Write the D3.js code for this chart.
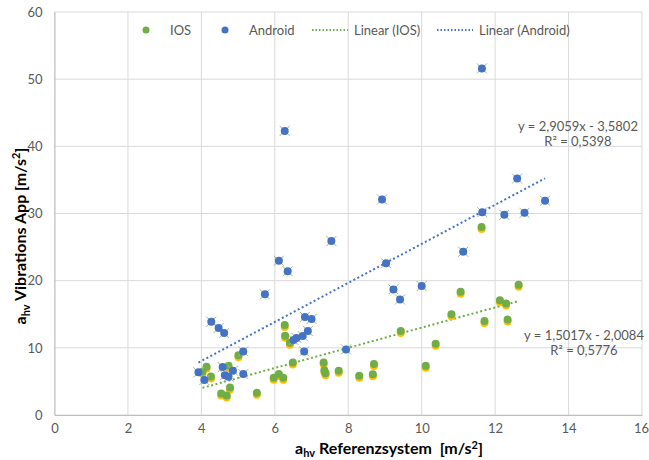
<!DOCTYPE html>
<html>
<head>
<meta charset="utf-8">
<script src="https://cdn.jsdelivr.net/npm/d3@7"></script>
<style>
  body { margin: 0; background: #fff; }
  text { font-family: Lato, "Open Sans", sans-serif; }
</style>
</head>
<body>
<div class="chart"></div>
<script>
// data
var iosX = [4.03, 4.14, 4.26, 4.54, 4.69, 4.74, 4.78, 5.01, 5.51, 5.97, 6.11, 6.23, 6.27, 6.28, 6.41, 6.49,
  7.33, 7.35, 7.38, 7.74, 8.3, 8.67, 8.7, 9.43, 10.11, 10.38, 10.81, 11.06, 11.63, 11.71, 12.13, 12.3, 12.34, 12.64];
var iosY = [6.45, 7.2, 5.75, 3.2, 2.9, 7.34, 4.1, 8.9, 3.3, 5.55, 6.1, 5.55, 13.4, 11.8, 10.76, 7.8,
  7.8, 6.65, 6.2, 6.6, 5.85, 6.05, 7.6, 12.5, 7.34, 10.6, 15.0, 18.35, 28.0, 14.0, 17.07, 16.6, 14.2, 19.4];

var androidX = [3.92, 4.08, 4.27, 4.47, 4.58, 4.62, 4.64, 4.74, 4.86, 5.14, 5.14, 5.73, 6.11, 6.27, 6.35,
  6.51, 6.59, 6.76, 6.8, 6.82, 6.9, 7.0, 7.54, 7.94, 8.92, 9.03, 9.23, 9.41, 10.0, 11.13, 11.64, 11.65,
  12.25, 12.6, 12.8, 13.36];
var androidY = [6.35, 5.2, 13.9, 12.95, 7.14, 12.2, 5.9, 5.7, 6.6, 9.47, 6.1, 17.96, 22.96, 42.3, 21.4,
  11.16, 11.46, 11.75, 9.47, 14.6, 12.5, 14.3, 25.9, 9.77, 32.1, 22.6, 18.7, 17.2, 19.2, 24.3, 51.6, 30.2,
  29.8, 35.2, 30.1, 31.9];

// trendline coefficients shown on the chart
var iosFit = { slope: 1.5017, intercept: -2.0084, label: "y = 1,5017x - 2,0084", r2: "R² = 0,5776" };
var androidFit = { slope: 2.9059, intercept: -3.5802, label: "y = 2,9059x - 3,5802", r2: "R² = 0,5398" };

var xTicks = [0, 2, 4, 6, 8, 10, 12, 14, 16];
var yTicks = [0, 10, 20, 30, 40, 50, 60];

var svgWidth = 649;
var svgHeight = 460;

var margin = { top: 12, right: 7, bottom: 45, left: 54.5 };
var width = svgWidth - margin.left - margin.right;
var height = svgHeight - margin.top - margin.bottom;

var svg = d3.select(".chart")
  .append("svg")
  .attr("width", svgWidth)
  .attr("height", svgHeight);

var chartGroup = svg.append("g")
  .attr("transform", `translate(${margin.left}, ${margin.top})`);

var xScale = d3.scaleLinear().domain([0, 16]).range([0, width]);
var yScale = d3.scaleLinear().domain([0, 60]).range([height, 0]);

// gridlines
chartGroup.append("g")
  .selectAll("line")
  .data(xTicks)
  .enter()
  .append("line")
  .attr("x1", d => xScale(d)).attr("x2", d => xScale(d))
  .attr("y1", 0).attr("y2", height)
  .attr("stroke", "#d9d9d9").attr("stroke-width", 1);

chartGroup.append("g")
  .selectAll("line")
  .data(yTicks)
  .enter()
  .append("line")
  .attr("x1", 0).attr("x2", width)
  .attr("y1", d => yScale(d)).attr("y2", d => yScale(d))
  .attr("stroke", "#d9d9d9").attr("stroke-width", 1);

// axes
var xAxis = d3.axisBottom(xScale).tickValues(xTicks).tickSize(0).tickPadding(9);
var yAxis = d3.axisLeft(yScale).tickValues(yTicks).tickSize(0).tickPadding(12);

var gx = chartGroup.append("g")
  .attr("transform", `translate(0, ${height})`)
  .call(xAxis);
var gy = chartGroup.append("g").call(yAxis);

[gx, gy].forEach(function (g) {
  g.select(".domain").attr("stroke", "#bfbfbf");
  g.selectAll("text").attr("fill", "#595959").style("font-size", "13px")
    .style("font-family", "Lato, 'Open Sans', sans-serif");
});
// keep the last x label inside the window
gx.selectAll(".tick text").filter(d => d === 16).attr("dx", -1);

// trendlines
function fitLine(fit, xs, color) {
  var x0 = d3.min(xs), x1 = d3.max(xs);
  chartGroup.append("line")
    .attr("x1", xScale(x0)).attr("y1", yScale(fit.slope * x0 + fit.intercept))
    .attr("x2", xScale(x1)).attr("y2", yScale(fit.slope * x1 + fit.intercept))
    .attr("stroke", color).attr("stroke-width", 2)
    .attr("stroke-dasharray", "2,2.5");
}
fitLine(iosFit, iosX, "#70ad47");
fitLine(androidFit, androidX, "#4472c4");

var iosData = iosX.map((x, i) => ({ x: x, y: iosY[i] }));
var androidData = androidX.map((x, i) => ({ x: x, y: androidY[i] }));

// IOS points (with the orange shadow seen in the picture)
chartGroup.append("g")
  .selectAll("circle")
  .data(iosData)
  .enter()
  .append("circle")
  .attr("cx", d => xScale(d.x))
  .attr("cy", d => yScale(d.y) + 2)
  .attr("r", 4)
  .attr("fill", "#ffc000");

chartGroup.append("g")
  .selectAll("circle")
  .data(iosData)
  .enter()
  .append("circle")
  .attr("cx", d => xScale(d.x))
  .attr("cy", d => yScale(d.y))
  .attr("r", 4)
  .attr("fill", "#70ad47");

// Android points with faint crosses behind
chartGroup.append("g")
  .selectAll("path")
  .data(androidData)
  .enter()
  .append("path")
  .attr("d", function (d) {
    var cx = xScale(d.x), cy = yScale(d.y), s = 5;
    return `M${cx - s},${cy - s}L${cx + s},${cy + s}M${cx - s},${cy + s}L${cx + s},${cy - s}`;
  })
  .attr("stroke", "#a5b592")
  .attr("stroke-width", 1)
  .attr("fill", "none");

chartGroup.append("g")
  .selectAll("circle")
  .data(androidData)
  .enter()
  .append("circle")
  .attr("cx", d => xScale(d.x))
  .attr("cy", d => yScale(d.y))
  .attr("r", 4)
  .attr("fill", "#4472c4");

// equation labels
function fitLabel(fit, cx, y) {
  var g = svg.append("g").attr("fill", "#595959").style("font-size", "13px");
  g.append("text").attr("x", cx).attr("y", y).attr("text-anchor", "middle").text(fit.label);
  g.append("text").attr("x", cx).attr("y", y + 15).attr("text-anchor", "middle").text(fit.r2);
}
fitLabel(androidFit, 578, 131);
fitLabel(iosFit, 584, 340);

// legend
var legend = svg.append("g").style("font-size", "13px").attr("fill", "#595959");
legend.append("circle").attr("cx", 146).attr("cy", 30).attr("r", 3.5).attr("fill", "#70ad47");
legend.append("text").attr("x", 170).attr("y", 35).text("IOS");
legend.append("circle").attr("cx", 225).attr("cy", 30).attr("r", 3.5).attr("fill", "#4472c4");
legend.append("text").attr("x", 249).attr("y", 35).text("Android");
legend.append("line").attr("x1", 312).attr("x2", 348).attr("y1", 30).attr("y2", 30)
  .attr("stroke", "#70ad47").attr("stroke-width", 2).attr("stroke-dasharray", "1.5,2");
legend.append("text").attr("x", 354).attr("y", 35).text("Linear (IOS)");
legend.append("line").attr("x1", 437).attr("x2", 473).attr("y1", 30).attr("y2", 30)
  .attr("stroke", "#4472c4").attr("stroke-width", 2).attr("stroke-dasharray", "1.5,2");
legend.append("text").attr("x", 479).attr("y", 35).text("Linear (Android)");

// axis titles
var xTitle = svg.append("text")
  .attr("x", 389).attr("y", 454)
  .attr("text-anchor", "middle")
  .attr("fill", "#000")
  .style("white-space", "pre")
  .style("font-size", "16px").style("font-weight", "bold");
xTitle.append("tspan").text("a");
xTitle.append("tspan").attr("dy", 3).style("font-size", "11px").text("hv");
xTitle.append("tspan").attr("dy", -3).text(" Referenzsystem  [m/s");
xTitle.append("tspan").attr("dy", -5).style("font-size", "11px").text("2");
xTitle.append("tspan").attr("dy", 5).text("]");

var yTitle = svg.append("text")
  .attr("transform", "translate(26, 236) rotate(-90)")
  .attr("text-anchor", "middle")
  .attr("fill", "#000")
  .style("font-size", "16px").style("font-weight", "bold");
yTitle.append("tspan").text("a");
yTitle.append("tspan").attr("dy", 4).style("font-size", "11px").text("hv");
yTitle.append("tspan").attr("dy", -4).text(" Vibrations App [m/s");
yTitle.append("tspan").attr("dy", -6).style("font-size", "11px").text("2");
yTitle.append("tspan").attr("dy", 6).text("]");
</script>
</body>
</html>
